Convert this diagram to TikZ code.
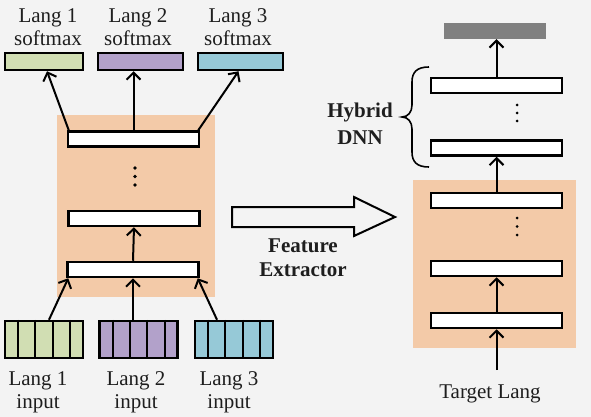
\documentclass[tikz,border=0pt]{standalone}
\usepackage{fontspec}
\setmainfont{Liberation Serif}
\usetikzlibrary{calc,arrows.meta}
\definecolor{pagegray}{RGB}{243,243,243}
\definecolor{featorange}{RGB}{243,202,168}
\definecolor{langgreen}{RGB}{209,222,179}
\definecolor{langpurple}{RGB}{178,161,202}
\definecolor{langblue}{RGB}{150,201,215}
\definecolor{outgray}{RGB}{128,128,128}
\definecolor{inkgray}{RGB}{30,30,30}
\tikzset{
  hidbar/.style={draw=black, fill=white, line width=2.5pt, inner sep=0, minimum width=131pt, minimum height=15pt},
  smbox/.style={draw=black, line width=2.5pt, inner sep=0, minimum height=17pt},
  inbox/.style={draw=black, line width=2.5pt, inner sep=0, minimum width=78pt, minimum height=37pt},
  lbl/.style={inner sep=0, align=center, text=inkgray, font=\fontsize{21}{23}\selectfont},
  blbl/.style={lbl, font=\fontsize{21}{24}\selectfont\bfseries},
  arr/.style={line width=2pt, -{Straight Barb[length=7pt,width=14pt]}}
}

\begin{document}
\begin{tikzpicture}[x=1pt, y=-1pt]
		%%%%% START %%%%%
		
		\fill[pagegray] (0, 0) rectangle (591, 417);
		\useasboundingbox (0, 0) rectangle (591, 417);
		
		% shared layers
		\fill[featorange] (57, 115) rectangle (215, 297);
		\node[hidbar] (lbA) at (133.5, 139) {};
		\node[hidbar] (lbB) at (134, 218.5) {};
		\node[hidbar] (lbC) at (133, 269.5) {};
		\foreach \y in {168, 176.5, 185} \fill (135, \y) circle (1.8);
		\draw[arr] (lbC.north) -- (lbB.south);
		
		% softmax outputs
		\node[smbox, fill=langgreen, minimum width=78pt] (sm1) at (44, 61.5) {};
		\node[smbox, fill=langpurple, minimum width=85pt] (sm2) at (140.5, 61.5) {};
		\node[smbox, fill=langblue, minimum width=85pt] (sm3) at (240.5, 61.5) {};
		\node[lbl] (sm1lbl) at (48, 27) {Lang 1\\softmax};
		\node[lbl] (sm2lbl) at (138, 27) {Lang 2\\softmax};
		\node[lbl] (sm3lbl) at (238, 27) {Lang 3\\softmax};
		\draw[arr] ($(lbA.north west)+(2, 0)$) -- ($(sm1.south)+(3, 0)$);
		\draw[arr] (lbA.north) -- (lbA.north |- sm2.south);
		\draw[arr] ($(lbA.north east)+(-2, 0)$) -- ($(sm3.south)+(-2, 0)$);
		
		% inputs
		\node[inbox, fill=langgreen] (in1) at (44, 339.5) {};
		\node[inbox, fill=langpurple] (in2) at (138.5, 339.5) {};
		\node[inbox, fill=langblue] (in3) at (234, 339.5) {};
		\foreach \n in {in1, in2, in3}
			\foreach \dx in {-26, -8.7, 8.7, 26}
				\draw[line width=2pt] ($(\n.north)+(\dx, 0)$) -- ($(\n.south)+(\dx, 0)$);
		\node[lbl] (in1lbl) at (38, 392) {Lang 1\\input};
		\node[lbl] (in2lbl) at (136, 392) {Lang 2\\input};
		\node[lbl] (in3lbl) at (229, 392) {Lang 3\\input};
		\draw[arr] ($(in1.north)+(5, 0)$) -- ($(lbC.south west)+(2, 0)$);
		\draw[arr] (lbC.south |- in2.north) -- (lbC.south);
		\draw[arr] ($(in3.north)+(-17, 0)$) -- ($(lbC.south east)+(-2, 0)$);
		
		% transfer
		\draw[line width=2pt, line join=miter] (232, 207) -- (354, 207) -- (354, 197) -- (395, 217)
			-- (354, 236) -- (354, 227) -- (232, 227) -- cycle;
		\node[blbl] (featlbl) at (303, 257.5) {Feature\\Extractor};
		
		% target network
		\fill[featorange] (413, 180) rectangle (576, 348);
		\node[fill=outgray, inner sep=0, minimum width=102pt, minimum height=16pt] (out) at (495, 31) {};
		\node[hidbar] (rbA) at (496.5, 85.5) {};
		\node[hidbar] (rbB) at (496.5, 148) {};
		\node[hidbar] (rbC) at (496.5, 200.5) {};
		\node[hidbar] (rbD) at (496.5, 268.5) {};
		\node[hidbar] (rbE) at (496.5, 320.5) {};
		\foreach \y in {105, 113, 121} \fill (517, \y) circle (1.5);
		\foreach \y in {218, 226.5, 235} \fill (517, \y) circle (1.5);
		\draw[arr] (rbA.north) -- (rbA.north |- out.south);
		\draw[arr] (rbC.north) -- (rbB.south);
		\draw[arr] (rbE.north) -- (rbD.south);
		\node[lbl] (tgtlbl) at (490, 393.5) {Target Lang};
		\coordinate (tgtin) at (496.5, 370);
		\draw[arr] (tgtin) -- (rbE.south);
		
		% brace
		\draw[line width=1.6pt] (429, 67) .. controls (417, 67) and (412, 72) .. (412, 82) -- (412, 105)
			.. controls (412, 112) and (408, 117) .. (402, 117)
			.. controls (408, 117) and (412, 122) .. (412, 129) -- (412, 152)
			.. controls (412, 162) and (417, 167) .. (429, 167);
		\node[blbl] (hyblbl) at (360, 124) {Hybrid\\[3pt]DNN};
		
		%%%%% END %%%%%
\end{tikzpicture}
\end{document}
